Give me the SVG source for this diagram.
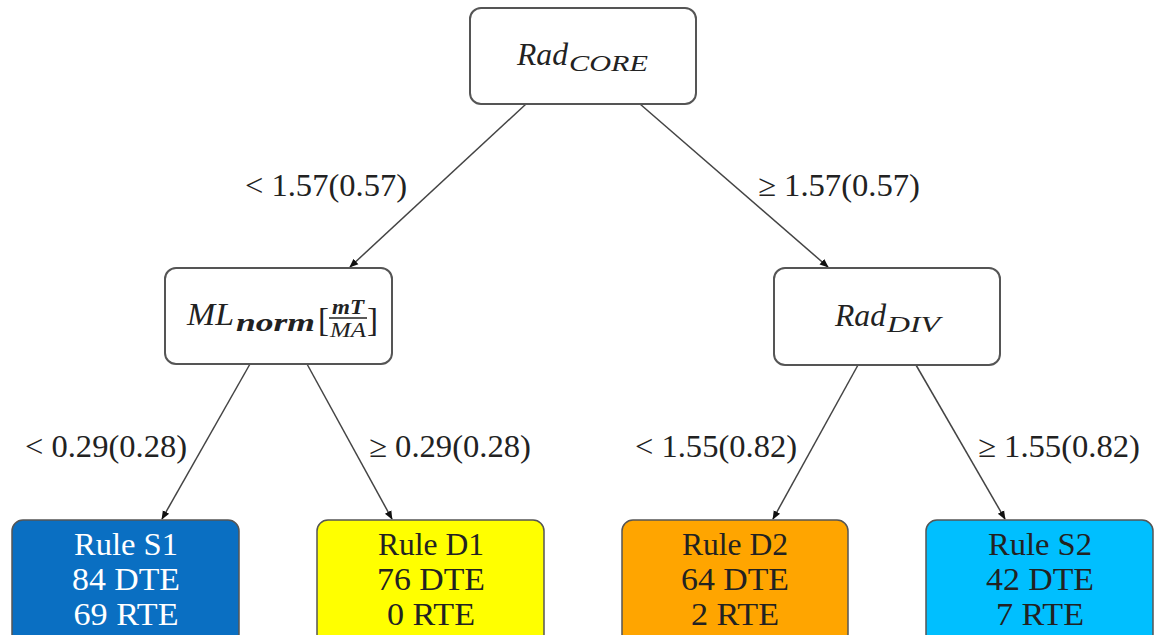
<svg xmlns="http://www.w3.org/2000/svg" width="1155" height="635" viewBox="0 0 1155 635">
<style>
.n{fill:#fff;stroke:#555;stroke-width:2}
.leaf{stroke:#555;stroke-width:1.5}
.t{font-family:"Liberation Serif","DejaVu Serif",serif;font-size:31px;fill:#222;text-anchor:middle}
.w{fill:#fff}
.m{font-family:"Liberation Serif","DejaVu Serif",serif;font-style:italic;fill:#222}
.c line{stroke:#444;stroke-width:1.5;marker-end:url(#ah)}
</style>
<defs>
<marker id="ah" viewBox="0 0 10 10" refX="9" refY="5" markerWidth="9" markerHeight="9" markerUnits="userSpaceOnUse" orient="auto">
<path d="M0,1 L10,5 L0,9 Z" fill="#111"/>
</marker>
</defs>
<rect width="1155" height="635" fill="#fff"/>
<g class="c" id="connectors">
<line x1="526" y1="104" x2="350" y2="267"/>
<line x1="640" y1="104" x2="828" y2="267"/>
<line x1="250" y1="364" x2="162" y2="519"/>
<line x1="307" y1="364" x2="392" y2="519"/>
<line x1="858" y1="365" x2="773" y2="519"/>
<line x1="916" y1="365" x2="1005" y2="519"/>
</g>
<g id="edge-labels">
<text class="t" x="326" y="196" textLength="162" lengthAdjust="spacingAndGlyphs">&lt; 1.57(0.57)</text>
<text class="t" x="839" y="196" textLength="162" lengthAdjust="spacingAndGlyphs">≥ 1.57(0.57)</text>
<text class="t" x="106" y="457" textLength="162" lengthAdjust="spacingAndGlyphs">&lt; 0.29(0.28)</text>
<text class="t" x="450" y="457" textLength="162" lengthAdjust="spacingAndGlyphs">≥ 0.29(0.28)</text>
<text class="t" x="716" y="457" textLength="162" lengthAdjust="spacingAndGlyphs">&lt; 1.55(0.82)</text>
<text class="t" x="1059" y="457" textLength="162" lengthAdjust="spacingAndGlyphs">≥ 1.55(0.82)</text>
</g>
<g id="rad-core">
<rect class="n" x="470" y="8" width="226" height="96" rx="11"/>
<text class="m" x="517" y="65" font-size="32" textLength="51" lengthAdjust="spacingAndGlyphs">Rad</text>
<text class="m" x="569" y="71" font-size="23" textLength="79" lengthAdjust="spacingAndGlyphs">CORE</text>
</g>
<g id="ml-norm">
<rect class="n" x="165" y="268" width="227" height="96" rx="11"/>
<text class="m" x="187" y="325" font-size="32" textLength="47" lengthAdjust="spacingAndGlyphs">ML</text>
<text class="m" x="236" y="331" font-size="25" font-weight="bold" textLength="79" lengthAdjust="spacingAndGlyphs">norm</text>
<text x="318" y="331" font-family="Liberation Serif,serif" font-size="33" fill="#222">[</text>
<text class="m" x="348" y="314" font-size="20" font-weight="bold" text-anchor="middle" textLength="32" lengthAdjust="spacingAndGlyphs">mT</text>
<line x1="329" y1="318" x2="367" y2="318" stroke="#222" stroke-width="1.3"/>
<text class="m" x="348" y="337" font-size="20" text-anchor="middle" textLength="36" lengthAdjust="spacingAndGlyphs">MA</text>
<text x="367" y="331" font-family="Liberation Serif,serif" font-size="33" fill="#222">]</text>
</g>
<g id="rad-div">
<rect class="n" x="774" y="268" width="226" height="97" rx="11"/>
<text class="m" x="835" y="326" font-size="32" textLength="51" lengthAdjust="spacingAndGlyphs">Rad</text>
<text class="m" x="887" y="332" font-size="23" textLength="53" lengthAdjust="spacingAndGlyphs">DIV</text>
</g>
<g id="rule-s1">
<rect class="leaf" x="12" y="520" width="227" height="125" rx="11" fill="#0A6FC2"/>
<text class="t w" x="126" y="555" textLength="104" lengthAdjust="spacingAndGlyphs">Rule S1</text>
<text class="t w" x="126" y="590" textLength="108" lengthAdjust="spacingAndGlyphs">84 DTE</text>
<text class="t w" x="126" y="625" textLength="105" lengthAdjust="spacingAndGlyphs">69 RTE</text>
</g>
<g id="rule-d1">
<rect class="leaf" x="317" y="520" width="227" height="125" rx="11" fill="#FFFF00"/>
<text class="t" x="431" y="555" textLength="106" lengthAdjust="spacingAndGlyphs">Rule D1</text>
<text class="t" x="431" y="590" textLength="108" lengthAdjust="spacingAndGlyphs">76 DTE</text>
<text class="t" x="431" y="625" textLength="88" lengthAdjust="spacingAndGlyphs">0 RTE</text>
</g>
<g id="rule-d2">
<rect class="leaf" x="622" y="520" width="226" height="125" rx="11" fill="#FFA500"/>
<text class="t" x="735" y="555" textLength="106" lengthAdjust="spacingAndGlyphs">Rule D2</text>
<text class="t" x="735" y="590" textLength="108" lengthAdjust="spacingAndGlyphs">64 DTE</text>
<text class="t" x="735" y="625" textLength="88" lengthAdjust="spacingAndGlyphs">2 RTE</text>
</g>
<g id="rule-s2">
<rect class="leaf" x="926" y="520" width="227" height="125" rx="11" fill="#00BFFF"/>
<text class="t" x="1040" y="555" textLength="104" lengthAdjust="spacingAndGlyphs">Rule S2</text>
<text class="t" x="1040" y="590" textLength="108" lengthAdjust="spacingAndGlyphs">42 DTE</text>
<text class="t" x="1040" y="625" textLength="88" lengthAdjust="spacingAndGlyphs">7 RTE</text>
</g>
</svg>
